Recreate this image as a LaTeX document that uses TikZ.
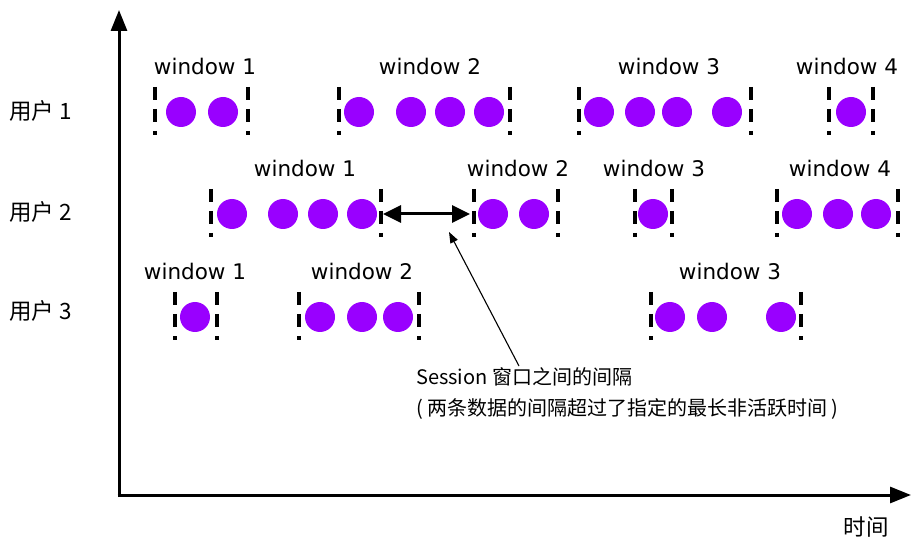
\documentclass[tikz,border=0pt]{standalone}
\usepackage{fontspec}
\setmainfont{DejaVu Sans}
\newfontfamily\cjk{Noto Sans CJK SC}
\usetikzlibrary{arrows.meta}
\definecolor{dotpurple}{RGB}{153,0,255}
\tikzset{
  evt/.style={circle,fill=dotpurple,minimum size=30pt,inner sep=0pt},
  bound/.style={line width=3.2pt,dash pattern=on 13pt off 9pt},
  wlab/.style={font=\fontsize{21.5}{24}\selectfont,inner sep=0pt},
  ulab/.style={font=\cjk\fontsize{22.5}{26}\selectfont,anchor=west,inner sep=0pt},
  axisline/.style={line width=3pt,-{Triangle[length=21pt,width=16pt]}},
  gaparrow/.style={line width=3pt,{Triangle[length=18pt,width=17pt]}-{Triangle[length=18pt,width=17pt]}},
  notearrow/.style={line width=1.1pt,-{Triangle[length=11pt,width=8pt]}},
  note/.style={font=\cjk\fontsize{20}{31}\selectfont,anchor=north west,inner sep=0pt,align=left},
}
% name, y, left x, right x, dot xs, label x, label text
\newcommand\sessionwin[7]{%
  \coordinate (#1-l) at (#3,#2);
  \coordinate (#1-r) at (#4,#2);
  \draw[bound] (#3,#2-25) -- (#3,#2+23);
  \draw[bound] (#4,#2-25) -- (#4,#2+23);
  \foreach \xx [count=\ii] in {#5} \node[evt] (#1-d\ii) at (\xx,#2) {};
  \node[wlab] (#1-lab) at (#6,#2-46) {#7};
}
\begin{document}
\begin{tikzpicture}[x=1pt,y=-1pt]
\useasboundingbox (0,0) rectangle (911,540);
% axes
\coordinate (origin) at (119,497);
\coordinate (ytip) at (119,10);
\coordinate (xtip) at (911,495);
\draw[axisline] (origin) -- (ytip);
\draw[axisline] (117.5,495) -- (xtip);
\node[font=\cjk\fontsize{22.5}{26}\selectfont,inner sep=0pt] (tlab) at (866,527) {时间};
% user labels
\node[ulab] (u1) at (9,111) {用户 1};
\node[ulab] (u2) at (9,212) {用户 2};
\node[ulab] (u3) at (9,311) {用户 3};
% user 1
\sessionwin{a1}{112}{155}{248}{181,223}{205}{window 1}
\sessionwin{a2}{112}{339}{510}{359,411,450,489}{430}{window 2}
\sessionwin{a3}{112}{579}{751}{599,640,677,727}{669}{window 3}
\sessionwin{a4}{112}{829}{873}{851}{847}{window 4}
% user 2
\sessionwin{b1}{214}{211}{381}{232,283,323,362}{305}{window 1}
\sessionwin{b2}{214}{474}{558}{493,534}{518}{window 2}
\sessionwin{b3}{214}{635}{672}{653}{654}{window 3}
\sessionwin{b4}{214}{777}{898}{797,838,876}{840}{window 4}
% user 3
\sessionwin{c1}{317}{175}{217}{195}{195}{window 1}
\sessionwin{c2}{317}{299}{419}{320,362,398}{362}{window 2}
\sessionwin{c3}{317}{651}{801}{670,712,781}{730}{window 3}
% gap arrow
\draw[gaparrow] ([xshift=2pt]b1-r) -- ([xshift=-4pt]b2-l);
% note
\node[note] (note) at (416,367) {Session 窗口之间的间隔\\( 两条数据的间隔超过了指定的最长非活跃时间 )};
\coordinate (notetop) at (519,366);
\coordinate (gapmid) at (449,232);
\draw[notearrow] (notetop) -- (gapmid);
\end{tikzpicture}
\end{document}
